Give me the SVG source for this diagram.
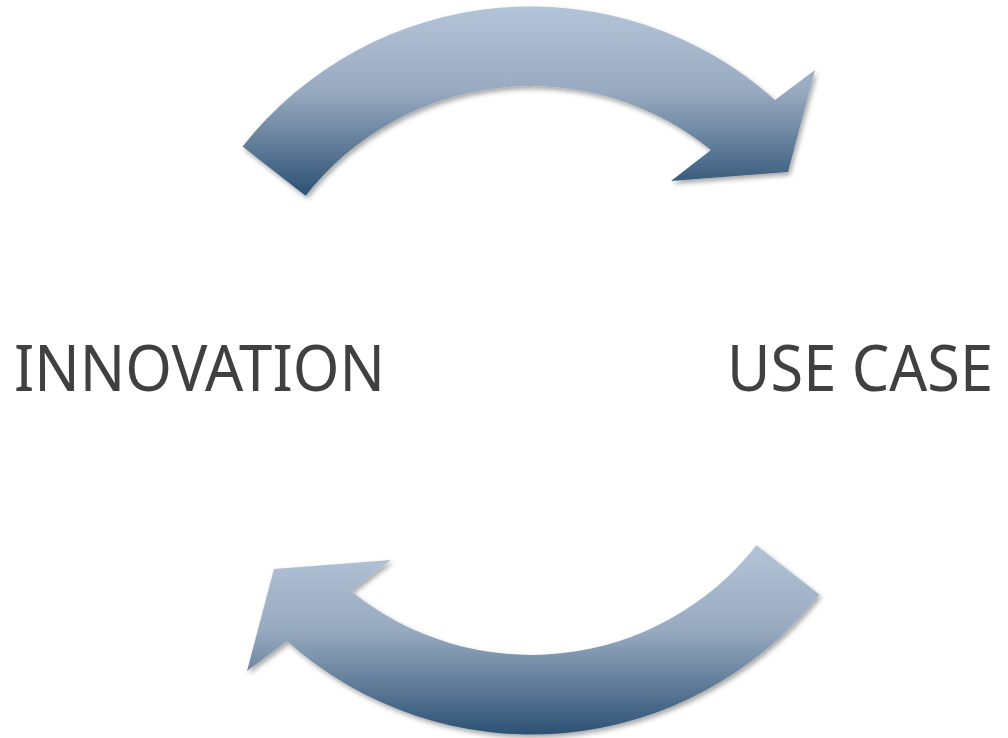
<svg xmlns="http://www.w3.org/2000/svg" width="1008" height="738" viewBox="0 0 1008 738">
  <defs>
    <linearGradient id="arrowGrad" x1="0" y1="0" x2="0" y2="1">
      <stop offset="0" stop-color="#b4c4d8"/>
      <stop offset="0.45" stop-color="#98aac0"/>
      <stop offset="1" stop-color="#2c5174"/>
    </linearGradient>
    <filter id="shadow" x="-10%" y="-10%" width="120%" height="130%">
      <feDropShadow dx="2" dy="3" stdDeviation="2.5" flood-color="#000" flood-opacity="0.35"/>
    </filter>
  </defs>
  <style>
    .arrow { fill: url(#arrowGrad); filter: url(#shadow); }
    .label { font-family: "Noto Sans", "Open Sans", "Liberation Sans", sans-serif; font-size: 59px; fill: #404040; }
  </style>
  <rect width="1008" height="738" fill="#ffffff"/>
  <g id="connectors">
    <path id="arrow-top" class="arrow" d="M 242.6,146.6 A 366 366 0 0 1 775,100 L 815,70 L 788,172 L 671,181 L 711,150 A 286 286 0 0 0 305.6,195.8 Z"/>
    <path id="arrow-bottom" class="arrow" d="M 819.4,594.4 A 366 366 0 0 1 287,641 L 247,671 L 274,569 L 391,560 L 351,591 A 286 286 0 0 0 756.4,545.2 Z"/>
  </g>
  <g id="innovation">
    <text class="label" transform="translate(14 391) scale(1 1.085)" x="0" y="0" textLength="371" lengthAdjust="spacingAndGlyphs">INNOVATION</text>
  </g>
  <g id="use-case">
    <text class="label" transform="translate(727 391) scale(1 1.085)" x="0" y="0" textLength="266" lengthAdjust="spacingAndGlyphs">USE CASE</text>
  </g>
</svg>
